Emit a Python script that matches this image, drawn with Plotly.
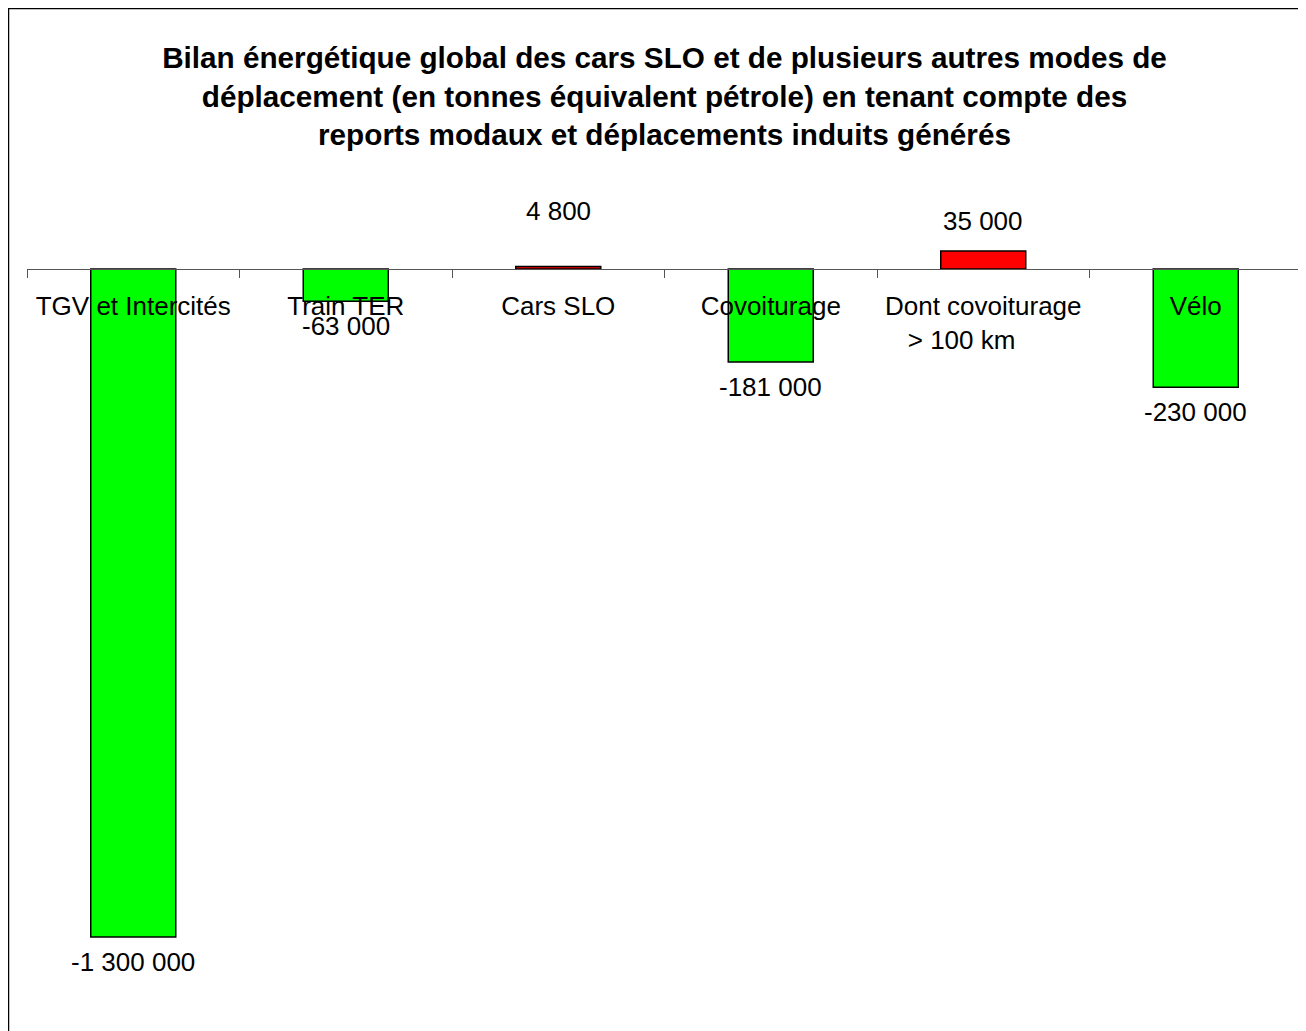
import plotly.graph_objects as go

# Bilan énergétique (tep) par mode de déplacement
categories = [
    "TGV et Intercités",
    "Train TER",
    "Cars SLO",
    "Covoiturage",
    "Dont covoiturage<br>> 100 km\u00a0\u00a0\u00a0\u00a0\u00a0\u00a0",
    "Vélo",
]
values = [-1300000, -63000, 4800, -181000, 35000, -230000]

# extra vertical nudge of the value labels, in px (the 4 800 label sits higher)
label_nudge = [0, 0, 26, 0, 0, 0]

TITLE = ("Bilan énergétique global des cars SLO et de plusieurs autres modes de<br>"
         "déplacement (en tonnes équivalent pétrole) en tenant compte des<br>"
         "reports modaux et déplacements induits générés")

FONT = "Liberation Sans, Arial, sans-serif"
GREEN = "#00FF00"
RED = "#FF0000"

W, H = 1306, 1031
M_L, M_R, M_T, M_B = 19, 12, 192, 39
ZERO_PX = 261                    # pixel row of the zero line
PX_PER_UNIT = 668 / 1300000      # bar scale

plot_h = H - M_T - M_B
y_max = (ZERO_PX - M_T) / PX_PER_UNIT
y_min = -(H - M_B - ZERO_PX) / PX_PER_UNIT
zero_pos = (0 - y_min) / (y_max - y_min)


def fmt(v):
    return f"{v:,}".replace(",", " ")


colors = [RED if v > 0 else GREEN for v in values]

fig = go.Figure(go.Bar(
    x=categories, y=values,
    marker={"color": colors, "line": {"color": "black", "width": 1.5}},
    hoverinfo="skip",
))

for cat, v, dy in zip(categories, values, label_nudge):
    fig.add_annotation(
        x=cat, y=v, text=fmt(v), showarrow=False,
        yanchor="bottom" if v > 0 else "top",
        yshift=(13 + dy) if v > 0 else -8,
        font={"family": FONT, "size": 26, "color": "black"},
    )

# frame around the whole chart
plot_w = W - M_L - M_R
fig.add_shape(
    type="rect", xref="paper", yref="paper",
    x0=(0.5 - M_L) / plot_w, x1=(W + 10 - M_L) / plot_w,
    y0=(H - M_B - (H + 10)) / plot_h, y1=(H - M_B - 0.5) / plot_h,
    line={"color": "black", "width": 1.5}, layer="below",
)

fig.update_xaxes(
    type="category", anchor="free", position=zero_pos,
    showline=True, linecolor="#555555", linewidth=1.3,
    ticks="outside", tickson="boundaries", ticklen=8,
    tickcolor="#555555", tickwidth=1.3,
    ticklabelstandoff=14,
    tickfont={"family": FONT, "size": 26, "color": "black"},
    showgrid=False, zeroline=False,
)
fig.update_yaxes(
    range=[y_min, y_max], visible=False, showgrid=False, zeroline=False,
)

fig.update_layout(
    width=W, height=H,
    margin={"l": M_L, "r": M_R, "t": M_T, "b": M_B},
    paper_bgcolor="white", plot_bgcolor="white",
    bargap=0.6, showlegend=False,
    title={
        "text": TITLE, "x": 0.5, "xref": "paper",
        "y": 1 - 60 / H, "yref": "container", "yanchor": "middle",
        "font": {"family": FONT, "size": 29.7, "color": "black", "weight": "bold"},
    },
)

fig.write_html("out.html")
